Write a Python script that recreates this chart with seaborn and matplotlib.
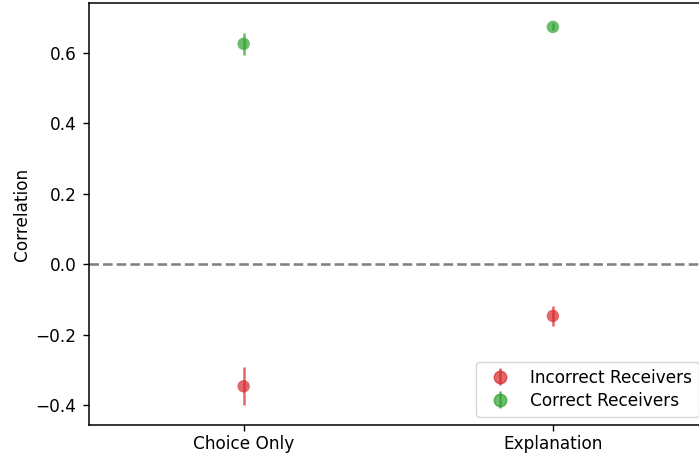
import matplotlib
matplotlib.use("Agg")
import matplotlib.pyplot as plt
import seaborn as sns
import pandas as pd

conditions = ["Choice Only", "Explanation"]
incorrect_corr = [-0.347, -0.147]
incorrect_err = [0.054, 0.029]
correct_corr = [0.626, 0.674]
correct_err = [0.031, 0.010]
series_labels = ["Incorrect Receivers", "Correct Receivers"]
series_colors = ["#d62728", "#2ca02c"]

sns.set_style("ticks")
plt.rcParams["font.family"] = ["DejaVu Sans"]
plt.rcParams["text.color"] = "black"
plt.rcParams["axes.labelcolor"] = "black"
FS = 12.2

df = pd.DataFrame({
    "condition": conditions * 2,
    "corr": incorrect_corr + correct_corr,
    "err": incorrect_err + correct_err,
    "group": [series_labels[0]] * 2 + [series_labels[1]] * 2,
})

fig = plt.figure(figsize=(6.99, 4.57), dpi=100)
ax = fig.add_axes([89 / 699, 1 - 425 / 457, (707.5 - 89) / 699, (425 - 3) / 457])

ax.axhline(0, color="gray", linestyle="--", linewidth=1.85, zorder=1)

sns.scatterplot(data=df, x="condition", y="corr", hue="group",
                palette=dict(zip(series_labels, series_colors)),
                s=80, alpha=0.7, edgecolor="none", legend=False, ax=ax, zorder=3)

for label, color in zip(series_labels, series_colors):
    sub = df[df["group"] == label]
    ax.errorbar(sub["condition"], sub["corr"], yerr=sub["err"], fmt="o",
                color=color, alpha=0.7, markersize=0, elinewidth=1.8,
                capsize=0, zorder=2)
    ax.errorbar([], [], yerr=[], fmt="o", color=color, alpha=0.7,
                markersize=9, elinewidth=1.8, capsize=0, label=label)

ax.set_xlim(-0.5, 1.5)
ax.set_ylim(-0.457, 0.742)
ax.set_yticks([-0.4, -0.2, 0.0, 0.2, 0.4, 0.6])
ax.set_xlabel("")
ax.set_ylabel("Correlation", fontsize=FS, labelpad=3)
for s in ax.spines.values():
    s.set_color("black")
    s.set_linewidth(1.1)
ax.tick_params(direction="out", length=4.5, width=1.0, colors="black",
               labelsize=FS, pad=4.5)
ax.tick_params(axis="x", pad=2.5)

ax.legend(loc="lower right", fontsize=FS, frameon=True, labelspacing=0.3)

fig.savefig("out.png", dpi=100)
